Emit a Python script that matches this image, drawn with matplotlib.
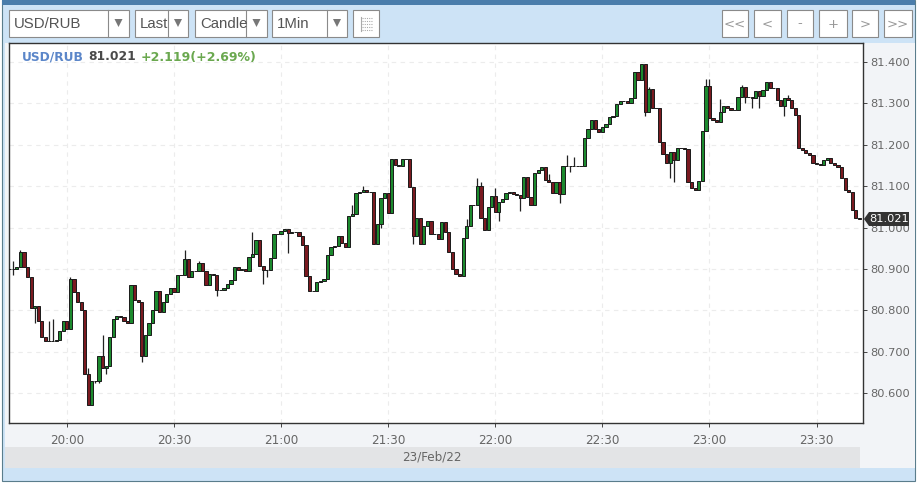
import matplotlib
matplotlib.use('Agg')
import matplotlib.pyplot as plt
from matplotlib.patches import Rectangle, Polygon

# ── Datos ─────────────────────────────────────────────────────────────
first_minute = -16  # minutos desde las 20:00

closes = [
    80.900, 80.900, 80.905, 80.940, 80.905, 80.880, 80.805, 80.810, 80.775, 80.735,
    80.725, 80.725, 80.725, 80.728, 80.750, 80.775, 80.755, 80.875, 80.845, 80.820,
    80.800, 80.645, 80.570, 80.630, 80.630, 80.690, 80.660, 80.665, 80.735, 80.780,
    80.785, 80.783, 80.775, 80.770, 80.860, 80.825, 80.820, 80.690, 80.740, 80.770,
    80.800, 80.846, 80.795, 80.820, 80.840, 80.855, 80.845, 80.885, 80.885, 80.925,
    80.880, 80.895, 80.895, 80.915, 80.895, 80.860, 80.888, 80.885, 80.850, 80.850,
    80.855, 80.863, 80.873, 80.905, 80.897, 80.900, 80.895, 80.928, 80.935, 80.970,
    80.907, 80.897, 80.897, 80.926, 80.984, 80.985, 80.991, 80.996, 80.986, 80.988,
    80.988, 80.980, 80.958, 80.883, 80.846, 80.846, 80.868, 80.870, 80.875, 80.933,
    80.953, 80.955, 80.980, 80.962, 80.953, 81.028, 81.032, 81.083, 81.085, 81.090,
    81.085, 81.085, 80.960, 81.008, 81.071, 81.083, 81.035, 81.165, 81.150, 81.148,
    81.165, 81.165, 81.098, 80.980, 81.022, 80.960, 81.003, 81.015, 80.984, 80.984,
    80.972, 81.013, 80.990, 80.940, 80.900, 80.888, 80.883, 80.975, 81.003, 81.054,
    81.054, 81.100, 81.023, 80.994, 81.049, 81.076, 81.037, 81.061, 81.069, 81.083,
    81.085, 81.082, 81.078, 81.071, 81.122, 81.073, 81.054, 81.131, 81.139, 81.146,
    81.114, 81.110, 81.083, 81.110, 81.080, 81.148, 81.148, 81.148, 81.148, 81.148,
    81.148, 81.216, 81.238, 81.260, 81.237, 81.230, 81.243, 81.250, 81.267, 81.270,
    81.299, 81.306, 81.306, 81.301, 81.313, 81.375, 81.356, 81.395, 81.279, 81.334,
    81.288, 81.288, 81.206, 81.177, 81.155, 81.182, 81.163, 81.192, 81.192, 81.190,
    81.110, 81.095, 81.090, 81.112, 81.233, 81.342, 81.264, 81.259, 81.255, 81.279,
    81.293, 81.290, 81.283, 81.283, 81.315, 81.339, 81.315, 81.315, 81.312, 81.330,
    81.318, 81.332, 81.351, 81.337, 81.337, 81.308, 81.293, 81.312, 81.308, 81.288,
    81.271, 81.192, 81.187, 81.180, 81.175, 81.156, 81.154, 81.150, 81.163, 81.168,
    81.156, 81.150, 81.146, 81.119, 81.090, 81.085, 81.042, 81.023, 81.021,
]

high_minutes = [-15, -13, 1, -8, -5, -4, 6, 10, 33, 37, 52, 80, 83, 97, 112, 115, 116, 120, 135,
                140, 142, 163, 179, 180, 183, 189, 202]
high_values = [80.92, 80.945, 80.88, 80.81, 80.775, 80.78, 80.66, 80.74, 80.945, 80.92, 80.99,
               81.055, 81.10, 81.02, 81.02, 81.12, 81.11, 81.095, 81.13,
               81.175, 81.17, 81.34, 81.36, 81.36, 81.31, 81.345, 81.32]
low_minutes = [-15, -9, 8, 9, 11, 21, 42, 55, 56, 62, 88, 97, 121, 127, 138, 141, 162, 169, 170,
               190, 192, 194, 201]
low_values = [80.885, 80.77, 80.625, 80.625, 80.645, 80.675, 80.835, 80.863, 80.88, 80.938,
              81.0, 80.96, 81.015, 81.04, 81.06, 81.135, 81.27, 81.12, 81.11,
              81.30, 81.29, 81.29, 81.27]

time_ticks = [0, 30, 60, 90, 120, 150, 180, 210]
time_labels = ['20:00', '20:30', '21:00', '21:30', '22:00', '22:30', '23:00', '23:30']
price_ticks = [80.6, 80.7, 80.8, 80.9, 81.0, 81.1, 81.2, 81.3, 81.4]
price_labels = ['80.600', '80.700', '80.800', '80.900', '81.000', '81.100', '81.200', '81.300', '81.400']

dropdowns = ['USD/RUB', 'Last', 'Candle', '1Min']
nav_buttons = ['<<', '<', '-', '+', '>', '>>']

# ── Cálculo de velas ──────────────────────────────────────────────────
minutes = [first_minute + i for i in range(len(closes))]
opens = [closes[0]] + closes[:-1]
highs = [max(o, c) for o, c in zip(opens, closes)]
lows = [min(o, c) for o, c in zip(opens, closes)]
for m, v in zip(high_minutes, high_values):
    i = m - first_minute
    highs[i] = max(highs[i], v)
for m, v in zip(low_minutes, low_values):
    i = m - first_minute
    lows[i] = min(lows[i], v)

W, H = 918, 487
fig = plt.figure(figsize=(W / 100, H / 100), dpi=100, facecolor='white')

# ── Fondo de la ventana (coordenadas en píxeles) ──────────────────────
bg = fig.add_axes([0, 0, 1, 1], zorder=0)
bg.set_xlim(0, W)
bg.set_ylim(H, 0)
bg.axis('off')
bg.add_patch(Rectangle((2, 0), 913, 481, fc='#cde3f6', ec='#5a7d8c', lw=0.8))
bg.add_patch(Rectangle((2, 0), 913, 5, fc='#4a7dab', ec='none'))
bg.add_patch(Rectangle((5, 43), 910, 425, fc='#f2f4f7', ec='none'))
bg.add_patch(Rectangle((5, 447), 855, 21, fc='#e3e4e6', ec='none'))

# ── Gráfico principal ─────────────────────────────────────────────────
left, right, top_px, bottom_px = 9, 863, 43, 423
ax = fig.add_axes([left / W, 1 - bottom_px / H, (right - left) / W, (bottom_px - top_px) / H], zorder=2)
ax.set_facecolor('white')
ax.set_xlim(-16.2, 223)
ax.set_ylim(80.5275, 81.446)
ax.grid(True, color='#ececec', lw=0.8, ls=(0, (4, 4)))
ax.set_axisbelow(True)

ax.vlines(minutes, lows, highs, color='#222222', lw=0.9, zorder=2)
body_colors = ['#1c8a2e' if c >= o else '#7a1a20' for o, c in zip(opens, closes)]
ax.bar(minutes, [abs(c - o) for o, c in zip(opens, closes)], bottom=[min(o, c) for o, c in zip(opens, closes)],
       width=0.9, color=body_colors, edgecolor='#1a1a1a', linewidth=0.7, zorder=3)

ax.yaxis.tick_right()
ax.set_xticks(time_ticks)
ax.set_xticklabels(time_labels, fontsize=9.5, color='#666666', family='DejaVu Sans', stretch='condensed')
ax.set_yticks(price_ticks)
ax.set_yticklabels(price_labels, fontsize=8.2, color='#666666')
ax.tick_params(axis='x', length=3, width=0.7, color='#444444', pad=5)
ax.tick_params(axis='y', length=3, width=0.7, color='#444444', pad=2)
for s in ax.spines.values():
    s.set_color('#333333')
    s.set_linewidth(1.0)

# ── Barra de herramientas y textos superpuestos ───────────────────────
top = fig.add_axes([0, 0, 1, 1], zorder=5)
top.set_xlim(0, W)
top.set_ylim(H, 0)
top.axis('off')
top.patch.set_alpha(0)

box_x0 = [9, 135, 195, 272]
box_x1 = [129, 188, 267, 347]
box_sep = [108, 168, 246, 327]
for name, x0, x1, sep in zip(dropdowns, box_x0, box_x1, box_sep):
    top.add_patch(Rectangle((x0, 10), x1 - x0, 27, fc='white', ec='#8a8a8a', lw=0.8))
    top.plot([sep, sep], [10, 37], color='#8a8a8a', lw=0.8)
    mid = (sep + x1) / 2
    top.add_patch(Polygon([(mid - 4, 19), (mid + 4, 19), (mid, 27)], fc='#777777', ec='none'))
    top.text(x0 + 5, 24, name, fontsize=10.8, color='#555555', family='Liberation Sans',
             va='center', ha='left', clip_on=True,
             clip_path=Rectangle((x0, 10), sep - x0, 27, transform=top.transData))

top.add_patch(Rectangle((353, 10), 26, 27, fc='white', ec='#8a8a8a', lw=0.8))
top.plot([361, 361], [17, 31], color='#aaaaaa', lw=0.8)
for y in [18, 21, 24, 27, 30]:
    top.plot([362, 372], [y, y], color='#aaaaaa', lw=0.8, ls=(0, (1, 1)))

nav_x0 = [722, 754, 787, 819, 852, 884]
nav_x1 = [748, 781, 813, 847, 878, 912]
for name, x0, x1 in zip(nav_buttons, nav_x0, nav_x1):
    top.add_patch(Rectangle((x0, 10), x1 - x0, 27, fc='white', ec='#8a8a8a', lw=0.8))
    top.text((x0 + x1) / 2, 24, name, fontsize=9.5, color='#999999', ha='center', va='center')

top.text(22, 57, 'USD/RUB', fontsize=8.8, weight='bold', color='#5b86c9', va='center')
top.text(88, 57, '81.021', fontsize=8.8, weight='bold', color='#4a4a4a', va='center')
top.text(141, 57, '+2.119(+2.69%)', fontsize=9, weight='bold', color='#6aa84f', va='center')

top.add_patch(Polygon([(864, 219), (869, 212), (909, 212), (909, 226), (869, 226)], fc='#333333', ec='none'))
top.text(889, 219.5, '81.021', fontsize=8.2, color='white', ha='center', va='center')

top.text(432, 457, '23/Feb/22', fontsize=9.5, color='#666666', ha='center', va='center', stretch='condensed')

plt.savefig('out.png', dpi=100)
